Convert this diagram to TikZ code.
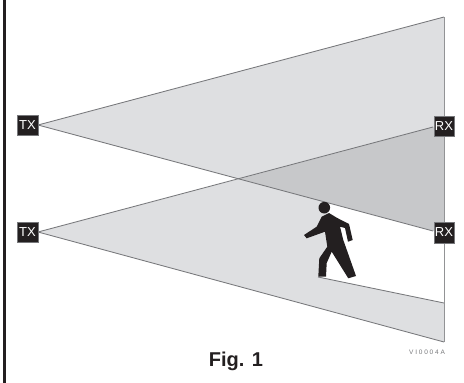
\documentclass[tikz,border=0pt]{standalone}
\usepackage{fontspec}
\setmainfont{Liberation Sans}
\definecolor{beam}{HTML}{DEDFE1}
\definecolor{overlap}{HTML}{C7C8CA}
\definecolor{edgeg}{HTML}{77787B}
\definecolor{inkb}{HTML}{231F20}
\tikzset{
  x=1pt,y=-1pt,
  sensor/.style={fill=inkb,draw=edgeg,line width=0.4pt,text=white,minimum size=20.5pt,inner sep=0pt,font=\fontsize{13}{14}\selectfont},
  edgeline/.style={draw=edgeg,line width=0.85pt},
  rightedge/.style={draw=edgeg!80,line width=1pt}
}
\begin{document}
\begin{tikzpicture}
\useasboundingbox (0,0) rectangle (464,383);
\fill[white] (0,0) rectangle (464,383);
\fill[inkb] (3,0) rectangle (6.2,383);
\coordinate (a1) at (38,125);
\coordinate (a2) at (38,232);
\coordinate (t1) at (444,17);
\coordinate (e1) at (433,127);
\coordinate (e2) at (433,231);
\coordinate (b2) at (444,342);
\coordinate (s2) at (444,303);
% beams
\fill[beam] (a1) -- (t1) -- (444,234) -- cycle;
\fill[beam] (a2) -- (444,125) -- (b2) -- cycle;
\fill[overlap] (239.5,179) -- (444,124.3) -- (444,233.9) -- cycle;
% shadow
\fill[white] (326,202.4) -- (444,233.9) -- (s2) -- (320,277) -- (322,258) -- (330,245) -- (330,225) -- cycle;
% lines
\draw[edgeline] (a1) -- (t1);
\draw[edgeline] (a1) -- (e2);
\draw[edgeline] (a2) -- (e1);
\draw[edgeline] (a2) -- (b2);
\draw[edgeline] (318,277) -- (s2);
\draw[rightedge] (t1) -- (b2);
% walker
\fill[inkb] (324.3,207.7) circle (5.8);
\fill[inkb] (321.7,216.7) -- (329,213) -- (336.7,217.7) -- (349,224) -- (352.7,240) -- (348,241.7) -- (345,228) -- (340,226.7) -- (343.3,240) -- (356,276) -- (348.3,278.3) -- (331.7,251.7) -- (326.7,263) -- (326,276.7) -- (318.3,276.7) -- (319.3,258.3) -- (327.3,246.7) -- (325,231.7) -- (306.7,238.3) -- (304,235) -- (316.7,226.7) -- cycle;
% sensors
\node[sensor] (tx1) at (27.5,125) {TX};
\node[sensor] (tx2) at (27.5,232) {TX};
\node[sensor] (rx1) at (444,126) {RX};
\node[sensor] (rx2) at (444,232.5) {RX};
\node[font=\bfseries\fontsize{20}{22}\selectfont,text=inkb] (fig) at (236,361) {Fig. 1};
\node[font=\fontsize{6.5}{7}\selectfont,text=edgeg] (code) at (427,352.5) {V I 0 0 0 4 A};
\end{tikzpicture}
\end{document}
